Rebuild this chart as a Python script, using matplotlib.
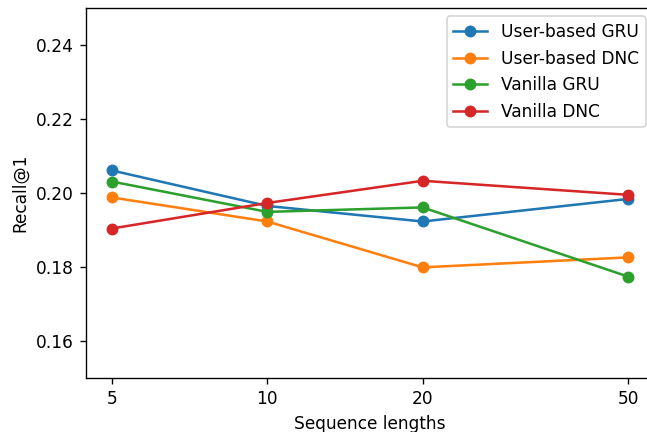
import matplotlib
matplotlib.use('Agg')
import matplotlib.pyplot as plt
from matplotlib.ticker import FixedLocator, FixedFormatter, NullLocator

seq_lengths = [5, 10, 20, 50]
user_gru = [0.2061, 0.1965, 0.1923, 0.1984]
user_dnc = [0.1988, 0.1923, 0.1799, 0.1826]
vanilla_gru = [0.2031, 0.1949, 0.1961, 0.1774]
vanilla_dnc = [0.1904, 0.1973, 0.2033, 0.1995]

# reference looks like a default-style figure rendered at a larger scale,
# cropped on the right so the right spine falls just outside the image
dpi = 122
fig = plt.figure(figsize=(647 / dpi, 432 / dpi), dpi=dpi)
ax = fig.add_axes([86 / 647, 0.125, 568 / 647, 0.8565])

ax.plot(seq_lengths, user_gru, marker='o', label='User-based GRU')
ax.plot(seq_lengths, user_dnc, marker='o', label='User-based DNC')
ax.plot(seq_lengths, vanilla_gru, marker='o', label='Vanilla GRU')
ax.plot(seq_lengths, vanilla_dnc, marker='o', label='Vanilla DNC')

ax.set_xscale('log')
ax.xaxis.set_major_locator(FixedLocator(seq_lengths))
ax.xaxis.set_major_formatter(FixedFormatter([str(s) for s in seq_lengths]))
ax.xaxis.set_minor_locator(NullLocator())
ax.set_ylim(0.15, 0.25)
ax.set_yticks([0.16, 0.18, 0.20, 0.22, 0.24])
ax.set_xlabel('Sequence lengths')
ax.set_ylabel('Recall@1')
ax.spines['right'].set_visible(False)  # cut off in the reference image
ax.legend(loc='upper right')

fig.savefig('out.png', dpi=dpi)
